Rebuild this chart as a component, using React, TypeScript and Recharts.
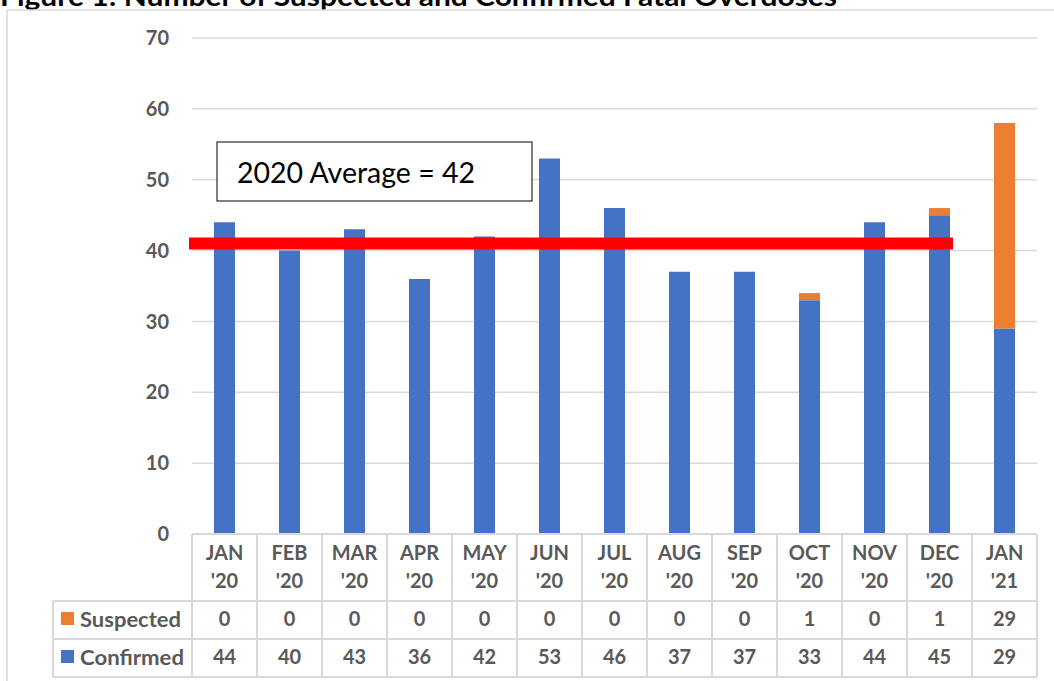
import React from "react";
import {
  BarChart,
  Bar,
  XAxis,
  YAxis,
  CartesianGrid,
  ReferenceLine,
} from "recharts";

const title = "Figure 1: Number of Suspected and Confirmed Fatal Overdoses";
const months = [
  "JAN '20",
  "FEB '20",
  "MAR '20",
  "APR '20",
  "MAY '20",
  "JUN '20",
  "JUL '20",
  "AUG '20",
  "SEP '20",
  "OCT '20",
  "NOV '20",
  "DEC '20",
  "JAN '21",
];
const suspected = [0, 0, 0, 0, 0, 0, 0, 0, 0, 1, 0, 1, 29];
const confirmed = [44, 40, 43, 36, 42, 53, 46, 37, 37, 33, 44, 45, 29];
const yTicks = [0, 10, 20, 30, 40, 50, 60, 70];
const averageValue = 41;
const averageLabel = "2020 Average = 42";
const lastAveragedMonth = "DEC '20";

const data = months.map((month, i) => ({
  month,
  Confirmed: confirmed[i],
  Suspected: suspected[i],
}));

// layout
const W = 1054;
const H = 681;
const MARGIN = { top: 38, right: 17, left: 0, bottom: 0 };
const Y_W = 192;
const X_H = 147;
const PLOT_W = W - MARGIN.right - MARGIN.left - Y_W;
const PLOT_BOTTOM = H - MARGIN.bottom - X_H;
const BAND = PLOT_W / months.length;
const BAR = 21;
const HEAD_H = 67;
const ROW_H = 38;
const LEG_X = 53;

const BLUE = "#4472C4";
const ORANGE = "#ED7D31";
const GRID = "#D9D9D9";
const TEXT = "#595959";
const FONT = "Lato, 'Open Sans', sans-serif";

const txt = {
  fontFamily: FONT,
  fontWeight: 700,
  fontSize: 20,
  fill: TEXT,
};

const TableTick = (props: any) => {
  const { x, payload } = props;
  const i = payload.index ?? props.index;
  const left = x - BAND / 2;
  const right = x + BAND / 2;
  const y0 = PLOT_BOTTOM;
  const y1 = y0 + HEAD_H;
  const y2 = y1 + ROW_H;
  const y3 = y2 + ROW_H;
  const [mon, yr] = String(payload.value).split(" ");
  const line = { stroke: GRID, strokeWidth: 2 };
  return (
    <g>
      <line x1={left} x2={right} y1={y0} y2={y0} {...line} />
      <line x1={left} x2={right} y1={y1} y2={y1} {...line} />
      <line x1={left} x2={right} y1={y2} y2={y2} {...line} />
      <line x1={left} x2={right} y1={y3} y2={y3} {...line} />
      <line x1={left} x2={left} y1={y0} y2={y3} {...line} />
      {i === months.length - 1 && (
        <line x1={right} x2={right} y1={y0} y2={y3} {...line} />
      )}
      <text x={x} y={y0 + 18} textAnchor="middle" dominantBaseline="central" {...txt}>
        {mon}
      </text>
      <text x={x} y={y0 + 46} textAnchor="middle" dominantBaseline="central" {...txt}>
        {yr}
      </text>
      <text x={x} y={y1 + ROW_H / 2 - 2} textAnchor="middle" dominantBaseline="central" {...txt}>
        {suspected[i]}
      </text>
      <text x={x} y={y2 + ROW_H / 2 - 2} textAnchor="middle" dominantBaseline="central" {...txt}>
        {confirmed[i]}
      </text>
      {i === 0 && (
        <g>
          <line x1={LEG_X} x2={left} y1={y1} y2={y1} {...line} />
          <line x1={LEG_X} x2={left} y1={y2} y2={y2} {...line} />
          <line x1={LEG_X} x2={left} y1={y3} y2={y3} {...line} />
          <line x1={LEG_X} x2={LEG_X} y1={y1} y2={y3} {...line} />
          <rect x={61} y={y1 + ROW_H / 2 - 8} width={13} height={13} fill={ORANGE} />
          <text
            x={80}
            y={y1 + ROW_H / 2 - 2}
            dominantBaseline="central"
            textLength={101}
            lengthAdjust="spacingAndGlyphs"
            {...txt}
            fontSize={21}
          >
            Suspected
          </text>
          <rect x={61} y={y2 + ROW_H / 2 - 8} width={13} height={13} fill={BLUE} />
          <text
            x={80}
            y={y2 + ROW_H / 2 - 2}
            dominantBaseline="central"
            textLength={104}
            lengthAdjust="spacingAndGlyphs"
            {...txt}
            fontSize={21}
          >
            Confirmed
          </text>
        </g>
      )}
    </g>
  );
};

const AverageShape = (p: any) => {
  const endIdx = months.indexOf(lastAveragedMonth);
  const xStart = p.x1 - 3;
  const xEnd = p.x1 + BAND * (endIdx + 0.5) + BAR / 2 + 3;
  return (
    <line x1={xStart} x2={xEnd} y1={p.y1} y2={p.y1} stroke="#FF0000" strokeWidth={12} />
  );
};

export default function App() {
  return (
    <div style={{ position: "absolute", left: 0, top: 0, width: W, height: H, background: "#fff" }}>
      <BarChart width={W} height={H} data={data} margin={MARGIN} barSize={BAR}>
        <CartesianGrid vertical={false} stroke={GRID} strokeWidth={1.5} />
        <YAxis
          width={Y_W}
          domain={[0, 70]}
          ticks={yTicks}
          axisLine={false}
          tickLine={false}
          tickSize={0}
          tickMargin={23}
          tick={{ ...txt }}
        />
        <XAxis
          dataKey="month"
          height={X_H}
          interval={0}
          axisLine={false}
          tickLine={false}
          tickSize={0}
          tickMargin={0}
          tick={<TableTick />}
        />
        <Bar dataKey="Confirmed" stackId="s" fill={BLUE} isAnimationActive={false} />
        <Bar dataKey="Suspected" stackId="s" fill={ORANGE} isAnimationActive={false} />
        <ReferenceLine y={averageValue} shape={<AverageShape />} />
      </BarChart>
      <svg
        width={W}
        height={H}
        style={{ position: "absolute", left: 0, top: 0, pointerEvents: "none" }}
      >
        <text
          x={0}
          y={6}
          fontFamily={FONT}
          fontWeight={700}
          fontSize={26}
          fill="#000"
          textLength={837}
          lengthAdjust="spacingAndGlyphs"
        >
          {title}
        </text>
        <line x1={7} x2={W} y1={10} y2={10} stroke={GRID} strokeWidth={1.5} />
        <line x1={7} x2={7} y1={10} y2={H} stroke={GRID} strokeWidth={1.5} />
        <rect x={217} y={142} width={315} height={59} fill="#fff" stroke="#000" strokeWidth={1} />
        <text x={237} y={183} fontFamily={FONT} fontSize={28.5} fill="#000">
          {averageLabel}
        </text>
      </svg>
    </div>
  );
}
